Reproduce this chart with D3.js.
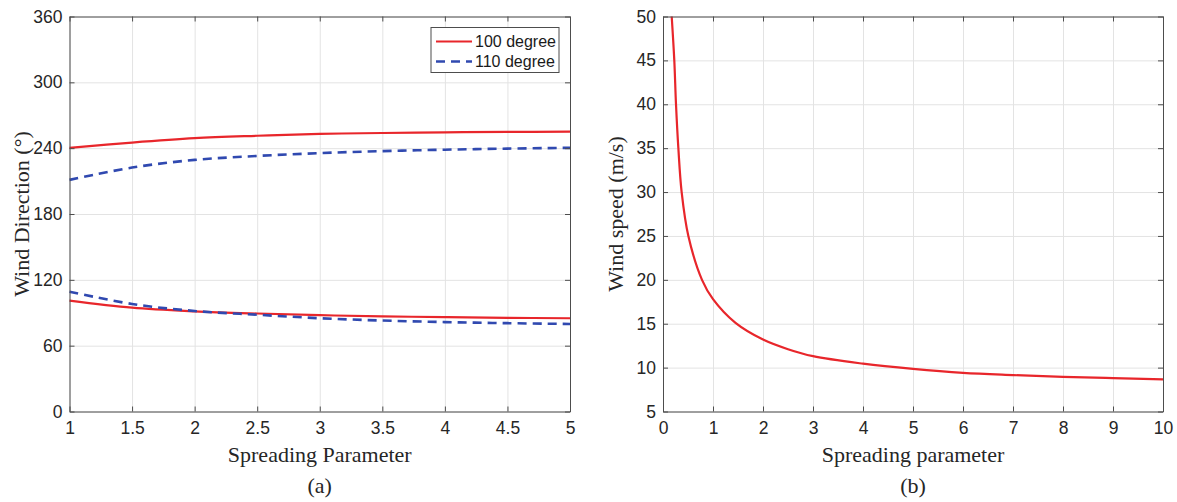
<!DOCTYPE html>
<html>
<head>
<meta charset="utf-8">
<script src="https://cdn.jsdelivr.net/npm/d3@7"></script>
<style>
  body { margin: 0; background: #fff; }
  .axis text { font-family: "Liberation Sans", Arial, sans-serif; font-size: 17.5px; fill: #262626; }
  .axis path, .axis line { stroke: #4d4d4d; }
  .grid line { stroke: #e3e3e3; stroke-width: 1; }
  .grid path { display: none; }
  .axis-title, .panel-tag { font-family: "Liberation Serif", "Times New Roman", serif; font-size: 22px; fill: #262626; }
  .legend text { font-family: "Liberation Sans", Arial, sans-serif; font-size: 16px; fill: #1a1a1a; }
</style>
</head>
<body>
<svg id="chart"></svg>
<script>
// ---- data ----
const dirX = [1, 1.5, 2, 2.5, 3, 3.5, 4, 4.5, 5];
const dir100Upper = [240.2, 245.1, 249.1, 251.3, 253, 253.8, 254.4, 254.8, 255.1];
const dir110Upper = [211.1, 222.3, 229.3, 232.9, 235.5, 237.3, 238.6, 239.6, 240.3];
const dir100Lower = [101, 94.6, 91.3, 89.3, 87.8, 86.7, 86, 85.4, 85];
const dir110Lower = [109.2, 98, 91.6, 88.2, 85, 82.9, 81.5, 80.5, 79.8];

const speedX = [0.174, 0.226, 0.26, 0.307, 0.373, 0.507, 0.78, 1, 1.45, 2, 2.5, 3, 4, 5, 6, 7, 8, 9, 10];
const speedV = [50, 45, 40, 35, 30, 25, 20, 17.8, 15.1, 13.2, 12.1, 11.3, 10.45, 9.85, 9.4, 9.15, 8.95, 8.8, 8.67];

const dirXTicks = [1, 1.5, 2, 2.5, 3, 3.5, 4, 4.5, 5];
const dirYTicks = [0, 60, 120, 180, 240, 300, 360];
const speedXTicks = [0, 1, 2, 3, 4, 5, 6, 7, 8, 9, 10];
const speedYTicks = [5, 10, 15, 20, 25, 30, 35, 40, 45, 50];

const legendLabels = ['100 degree', '110 degree'];
const RED = '#e8262b';
const BLUE = '#3049b0';

const svg = d3.select('#chart')
    .attr('width', 1177)
    .attr('height', 502);

class LinePanel {

  constructor(_config, _series) {
    this.config = _config;
    this.series = _series;
    this.initVis();
  }

  initVis() {
    let vis = this;
    const c = vis.config;
    vis.width = c.right - c.left;
    vis.height = c.bottom - c.top;

    vis.xScale = d3.scaleLinear().domain(c.xDomain).range([0, vis.width]);
    vis.yScale = d3.scaleLinear().domain(c.yDomain).range([vis.height, 0]);

    vis.chart = svg.append('g')
        .attr('transform', `translate(${c.left},${c.top})`);

    // grid lines
    vis.chart.append('g')
        .attr('class', 'grid')
        .attr('transform', `translate(0,${vis.height})`)
        .call(d3.axisBottom(vis.xScale).tickValues(c.xTicks).tickSize(-vis.height).tickFormat(''));
    vis.chart.append('g')
        .attr('class', 'grid')
        .call(d3.axisLeft(vis.yScale).tickValues(c.yTicks).tickSize(-vis.width).tickFormat(''));

    // lines
    vis.line = d3.line()
        .x(d => vis.xScale(d[0]))
        .y(d => vis.yScale(d[1]))
        .curve(d3.curveCatmullRom.alpha(0.5));

    vis.series.forEach(s => {
      vis.chart.append('path')
          .datum(s.x.map((x, i) => [x, s.y[i]]))
          .attr('fill', 'none')
          .attr('stroke', s.color)
          .attr('stroke-width', s.width)
          .attr('stroke-dasharray', s.dash || null)
          .attr('d', vis.line);
    });

    // box axes with inward ticks
    vis.chart.append('g')
        .attr('class', 'axis')
        .attr('transform', `translate(0,${vis.height})`)
        .call(d3.axisBottom(vis.xScale).tickValues(c.xTicks).tickSize(-5).tickSizeOuter(0).tickPadding(10).tickFormat(d3.format('')));
    vis.chart.append('g')
        .attr('class', 'axis')
        .call(d3.axisLeft(vis.yScale).tickValues(c.yTicks).tickSize(-5).tickSizeOuter(0).tickPadding(7));
    vis.chart.append('g')
        .attr('class', 'axis')
        .call(d3.axisTop(vis.xScale).tickValues(c.xTicks).tickSize(-5).tickSizeOuter(0).tickFormat(''));
    vis.chart.append('g')
        .attr('class', 'axis')
        .attr('transform', `translate(${vis.width},0)`)
        .call(d3.axisRight(vis.yScale).tickValues(c.yTicks).tickSize(-5).tickSizeOuter(0).tickFormat(''));

    // titles
    vis.chart.append('text')
        .attr('class', 'axis-title')
        .attr('x', vis.width / 2)
        .attr('y', vis.height + 50)
        .attr('text-anchor', 'middle')
        .text(c.xTitle);

    vis.chart.append('text')
        .attr('class', 'axis-title')
        .attr('transform', `translate(${c.yTitleX - c.left},${vis.height / 2}) rotate(-90)`)
        .attr('text-anchor', 'middle')
        .attr('dy', '0.35em')
        .text(c.yTitle);

    vis.chart.append('text')
        .attr('class', 'panel-tag')
        .attr('x', vis.width / 2)
        .attr('y', vis.height + 81)
        .attr('text-anchor', 'middle')
        .text(c.tag);
  }
}

const left = new LinePanel({
  left: 69.5, right: 570, top: 16.5, bottom: 411.5,
  xDomain: [1, 5], yDomain: [0, 360],
  xTicks: dirXTicks, yTicks: dirYTicks,
  xTitle: 'Spreading Parameter', yTitle: 'Wind Direction (°)', yTitleX: 21, tag: '(a)'
}, [
  {x: dirX, y: dir100Upper, color: RED, width: 2.2},
  {x: dirX, y: dir100Lower, color: RED, width: 2.2},
  {x: dirX, y: dir110Upper, color: BLUE, width: 2.6, dash: '9,6'},
  {x: dirX, y: dir110Lower, color: BLUE, width: 2.6, dash: '9,6'}
]);

const right = new LinePanel({
  left: 663, right: 1163, top: 16.5, bottom: 411.5,
  xDomain: [0, 10], yDomain: [5, 50],
  xTicks: speedXTicks, yTicks: speedYTicks,
  xTitle: 'Spreading parameter', yTitle: 'Wind speed (m/s)', yTitleX: 615, tag: '(b)'
}, [
  {x: speedX, y: speedV, color: RED, width: 2.2}
]);

// legend in panel (a)
const legend = svg.append('g')
    .attr('class', 'legend')
    .attr('transform', 'translate(431,27.5)');

legend.append('rect')
    .attr('width', 128)
    .attr('height', 45)
    .attr('fill', '#fff')
    .attr('stroke', '#4d4d4d')
    .attr('stroke-width', 1);

const legendStyles = [
  {color: RED, width: 2.2, dash: null},
  {color: BLUE, width: 2.6, dash: '9,6'}
];

legendLabels.forEach((label, i) => {
  const y = 14 + i * 20;
  legend.append('line')
      .attr('x1', 5).attr('x2', 41)
      .attr('y1', y).attr('y2', y)
      .attr('stroke', legendStyles[i].color)
      .attr('stroke-width', legendStyles[i].width)
      .attr('stroke-dasharray', legendStyles[i].dash);
  legend.append('text')
      .attr('x', 44)
      .attr('y', y)
      .attr('dy', '0.35em')
      .text(label);
});
</script>
</body>
</html>
